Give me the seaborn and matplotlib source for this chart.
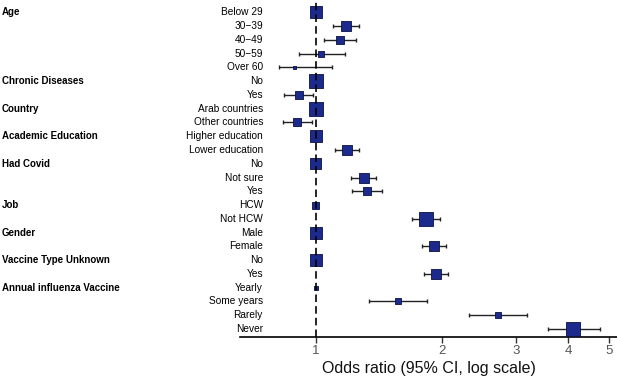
import matplotlib
matplotlib.use("Agg")
import matplotlib.pyplot as plt
import matplotlib.transforms as mtransforms
import seaborn as sns
import pandas as pd
import numpy as np

groups = ["Age", "", "", "", "",
          "Chronic Diseases", "",
          "Country", "",
          "Academic Education", "",
          "Had Covid", "", "",
          "Job", "",
          "Gender", "",
          "Vaccine Type Unknown", "",
          "Annual influenza Vaccine", "", "", ""]
levels = ["Below 29", "30\u221239", "40\u221249", "50\u221259", "Over 60",
          "No", "Yes",
          "Arab countries", "Other countries",
          "Higher education", "Lower education",
          "No", "Not sure", "Yes",
          "HCW", "Not HCW",
          "Male", "Female",
          "No", "Yes",
          "Yearly", "Some years", "Rarely", "Never"]
odds = [1.0, 1.18, 1.141, 1.03, 0.888,
        1.0, 0.911,
        1.0, 0.904,
        1.0, 1.186,
        1.0, 1.302, 1.324,
        1.0, 1.835,
        1.0, 1.909,
        1.0, 1.935,
        1.0, 1.57, 2.715, 4.11]
ci_low = [1.0, 1.098, 1.047, 0.911, 0.817,
          1.0, 0.84,
          1.0, 0.837,
          1.0, 1.112,
          1.0, 1.216, 1.219,
          1.0, 1.70,
          1.0, 1.787,
          1.0, 1.815,
          1.0, 1.338, 2.32, 3.57]
ci_high = [1.0, 1.267, 1.248, 1.173, 1.096,
           1.0, 0.987,
           1.0, 0.978,
           1.0, 1.267,
           1.0, 1.393, 1.438,
           1.0, 1.974,
           1.0, 2.04,
           1.0, 2.07,
           1.0, 1.844, 3.18, 4.75]
weights = [12, 10, 8, 6, 3,
           14, 8,
           14, 8,
           12, 10,
           11, 10, 8,
           7, 14,
           12, 10,
           12, 10,
           4, 6, 6, 14]

df = pd.DataFrame({"group": groups, "level": levels, "odds": odds,
                   "lo": ci_low, "hi": ci_high, "w": weights})
df["row"] = np.arange(len(df))

sns.set_style("white")
plt.rcParams["font.family"] = ["Liberation Sans", "DejaVu Sans"]

fig = plt.figure(figsize=(6.17, 3.78), dpi=100)
W, H = 617, 378
ax_left, ax_right = 240, 617
ax_top, ax_bottom = 2, 336.7
ax = fig.add_axes([ax_left / W, 1 - ax_bottom / H,
                   (ax_right - ax_left) / W, (ax_bottom - ax_top) / H])

navy = "#1b2a8c"
# CI lines with caps
ci_rows = df[df["lo"] != df["hi"]]
ax.errorbar(ci_rows["odds"], ci_rows["row"],
            xerr=[ci_rows["odds"] - ci_rows["lo"], ci_rows["hi"] - ci_rows["odds"]],
            fmt="none", ecolor="#222222", elinewidth=1.0, capsize=1.4,
            capthick=1.0, zorder=2)

sizes = {w: (w * 0.72) ** 2 for w in sorted(set(weights))}
sns.scatterplot(data=df, x="odds", y="row", size="w", sizes=sizes,
                marker="s", color=navy, edgecolor="#0a1040", linewidth=0.6,
                legend=False, ax=ax, zorder=3)

ax.axvline(1.0, color="black", lw=1.2, ls=(0, (4.5, 2.5)), zorder=4)

ax.set_xscale("log")
ax.set_xlim(0.66, 5.22)
ax.set_ylim(len(df) - 1 + 0.56, -0.75)
ax.set_xticks([1, 2, 3, 4, 5])
ax.set_xticklabels(["1", "2", "3", "4", "5"])
ax.xaxis.set_minor_locator(matplotlib.ticker.NullLocator())
ax.tick_params(axis="x", direction="out", length=4, width=1, color="#333333",
               labelsize=9.5, labelcolor="#555555", pad=2, bottom=True)
ax.set_yticks([])
for s in ["left", "top", "right"]:
    ax.spines[s].set_visible(False)
ax.spines["bottom"].set_color("black")
ax.spines["bottom"].set_linewidth(1.2)
ax.set_xlabel("Odds ratio (95% CI, log scale)", fontsize=11.5, color="#111111",
              labelpad=3)
ax.set_ylabel("")

trans = mtransforms.blended_transform_factory(fig.transFigure, ax.transData)
for _, r in df.iterrows():
    ax.text(263 / W, r["row"], r["level"], transform=trans, ha="right",
            va="center", fontsize=7.3, color="black")
    if r["group"]:
        ax.text(2 / W, r["row"], r["group"], transform=trans, ha="left",
                va="center", fontsize=7.0, fontweight="bold", color="black")

ax.set_facecolor("white")
fig.patch.set_facecolor("white")
fig.savefig("out.png", dpi=100)
